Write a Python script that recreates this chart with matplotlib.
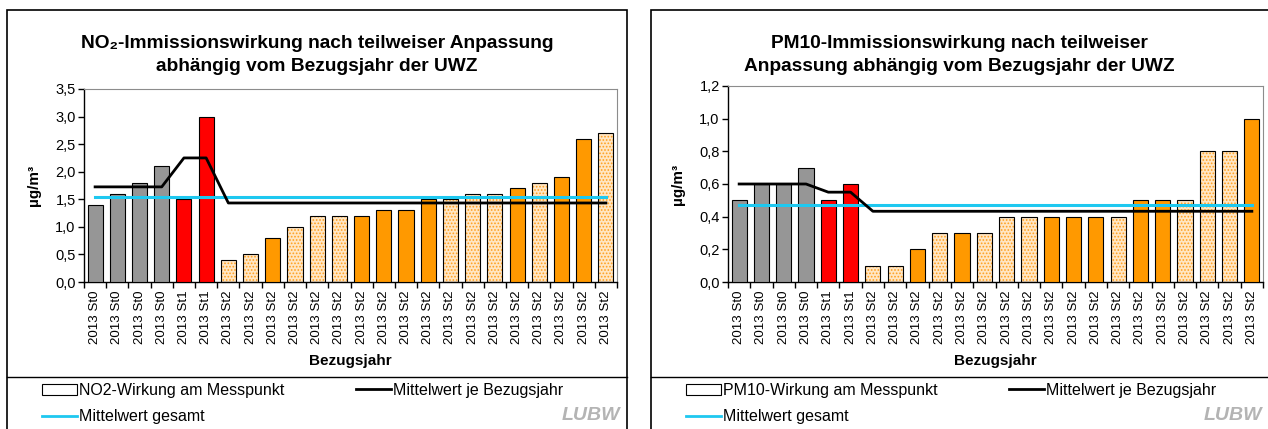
import matplotlib
matplotlib.use('Agg')
import matplotlib.pyplot as plt
from matplotlib.patches import Rectangle, Patch
from matplotlib.lines import Line2D
from matplotlib.ticker import FuncFormatter
import numpy as np

plt.rcParams['font.family'] = ['Liberation Sans', 'DejaVu Sans']
plt.rcParams['hatch.linewidth'] = 0.8

# --- Daten ---
kategorien = ['2013 St0'] * 4 + ['2013 St1'] * 2 + ['2013 St2'] * 18
# Stufe je Balken: 0 = St0 (grau), 1 = St1 (rot), 2 = St2 voll, 3 = St2 gepunktet
art_no2 = [0, 0, 0, 0, 1, 1,
           3, 3, 2, 3, 3, 3, 2, 2, 2, 2, 3, 3, 3, 2, 3, 2, 2, 3]
no2 = [1.4, 1.6, 1.8, 2.1, 1.5, 3.0,
       0.4, 0.5, 0.8, 1.0, 1.2, 1.2, 1.2, 1.3, 1.3, 1.5, 1.5, 1.6, 1.6, 1.7, 1.8, 1.9, 2.6, 2.7]
no2_mittel_jahr = [1.725, 1.725, 1.725, 1.725, 2.25, 2.25,
                   1.433, 1.433, 1.433, 1.433, 1.433, 1.433, 1.433, 1.433, 1.433, 1.433,
                   1.433, 1.433, 1.433, 1.433, 1.433, 1.433, 1.433, 1.433]
no2_mittel_gesamt = 1.55

art_pm10 = [0, 0, 0, 0, 1, 1,
            3, 3, 2, 3, 2, 3, 3, 3, 2, 2, 2, 3, 2, 2, 3, 3, 3, 2]
pm10 = [0.5, 0.6, 0.6, 0.7, 0.5, 0.6,
        0.1, 0.1, 0.2, 0.3, 0.3, 0.3, 0.4, 0.4, 0.4, 0.4, 0.4, 0.4, 0.5, 0.5, 0.5, 0.8, 0.8, 1.0]
pm10_mittel_jahr = [0.6, 0.6, 0.6, 0.6, 0.55, 0.55,
                    0.433, 0.433, 0.433, 0.433, 0.433, 0.433, 0.433, 0.433, 0.433, 0.433,
                    0.433, 0.433, 0.433, 0.433, 0.433, 0.433, 0.433, 0.433]
pm10_mittel_gesamt = 0.47

farben = {0: '#969696', 1: '#FF0000', 2: '#FF9900', 3: '#FFE6C4'}
HELLBLAU = '#1EC8F0'

fig = plt.figure(figsize=(12.68, 4.29), dpi=100)
W, H = 1268.0, 429.0


def rahmen(x0, x1):
    fig.add_artist(Rectangle((x0 / W, -0.01), (x1 - x0) / W, (H - 10) / H + 0.01,
                             transform=fig.transFigure, fill=False, lw=1.2,
                             edgecolor='black'))
    fig.add_artist(Line2D([x0 / W, x1 / W], [1 - 377 / H] * 2,
                          transform=fig.transFigure, color='black', lw=1.0))


def panel(rect, box, werte, arten, mittel_jahr, mittel_ges, ymax, ystep, titel, name, logo_x):
    ax = fig.add_axes(rect)
    x = np.arange(len(werte))
    for xi, v, a in zip(x, werte, arten):
        if a == 3:
            ax.bar(xi, v, width=0.68, color=farben[3], edgecolor='#FFA020',
                   hatch='.....', linewidth=0, zorder=2)
            ax.bar(xi, v, width=0.68, fill=False, edgecolor='black',
                   linewidth=0.8, zorder=3)
        else:
            ax.bar(xi, v, width=0.68, color=farben[a], edgecolor='black',
                   linewidth=0.8, zorder=3)
    ax.plot(x, [mittel_ges] * len(x), color=HELLBLAU, lw=2.2, zorder=4)
    ax.plot(x, mittel_jahr, color='black', lw=2.0, zorder=5)

    ax.set_xlim(-0.5, len(werte) - 0.5)
    ax.set_ylim(0, ymax)
    ax.set_yticks(np.arange(0, ymax + 1e-9, ystep))
    ax.yaxis.set_major_formatter(FuncFormatter(lambda v, p: f'{v:.1f}'.replace('.', ',')))
    ax.set_xticks(x)
    ax.set_xticklabels(kategorien, rotation=90)
    ax.set_xticks(np.arange(-0.5, len(werte)), minor=True)
    ax.tick_params(axis='x', which='major', length=0, labelsize=9.6, pad=6)
    ax.tick_params(axis='x', which='minor', length=4, width=1)
    ax.tick_params(axis='y', length=4, width=1, labelsize=10.5, pad=2)
    for s in ['top', 'right']:
        ax.spines[s].set_color('#8C8C8C')
    for s in ['left', 'bottom']:
        ax.spines[s].set_color('black')
        ax.spines[s].set_linewidth(1.0)
    ax.set_xlabel('Bezugsjahr', fontweight='bold', fontsize=11, labelpad=7)
    ax.set_ylabel('µg/m³', fontweight='bold', fontsize=11, labelpad=10)
    fig.text((box[0] + box[1]) / 2 / W, 1 - 55 / H, titel, fontweight='bold',
             fontsize=13.8, linespacing=1.5, ha='center', va='center')

    handles = [Patch(facecolor='white', edgecolor='black', lw=0.8),
               Line2D([0], [0], color=HELLBLAU, lw=2),
               Line2D([0], [0], color='black', lw=2)]
    labels = [name + '-Wirkung am Messpunkt', 'Mittelwert gesamt', 'Mittelwert je Bezugsjahr']
    lx = (box[0] + 35) / W
    fig.legend(handles, labels, ncol=2, loc='upper left',
               bbox_to_anchor=(lx, 1 - 383 / H), frameon=False, fontsize=11.5,
               handlelength=2.2, handletextpad=0.1, columnspacing=4.5,
               labelspacing=0.7, borderaxespad=0, borderpad=0)
    fig.text(logo_x / W, 1 - 416 / H, 'LUBW', fontsize=14, fontweight='bold',
             style='italic', color='#B4B4B4', ha='right', va='center')
    return ax


rahmen(7, 627)
rahmen(651, 1275)

panel([84 / W, 1 - 282 / H, 533 / W, 193 / H], (7, 627), no2, art_no2, no2_mittel_jahr,
      no2_mittel_gesamt, 3.5, 0.5,
      'NO₂-Immissionswirkung nach teilweiser Anpassung\nabhängig vom Bezugsjahr der UWZ',
      'NO2', 620)
panel([728 / W, 1 - 282 / H, 535 / W, 196 / H], (651, 1268), pm10, art_pm10, pm10_mittel_jahr,
      pm10_mittel_gesamt, 1.2, 0.2,
      'PM10-Immissionswirkung nach teilweiser\nAnpassung abhängig vom Bezugsjahr der UWZ',
      'PM10', 1262)

fig.savefig('out.png', dpi=100)
